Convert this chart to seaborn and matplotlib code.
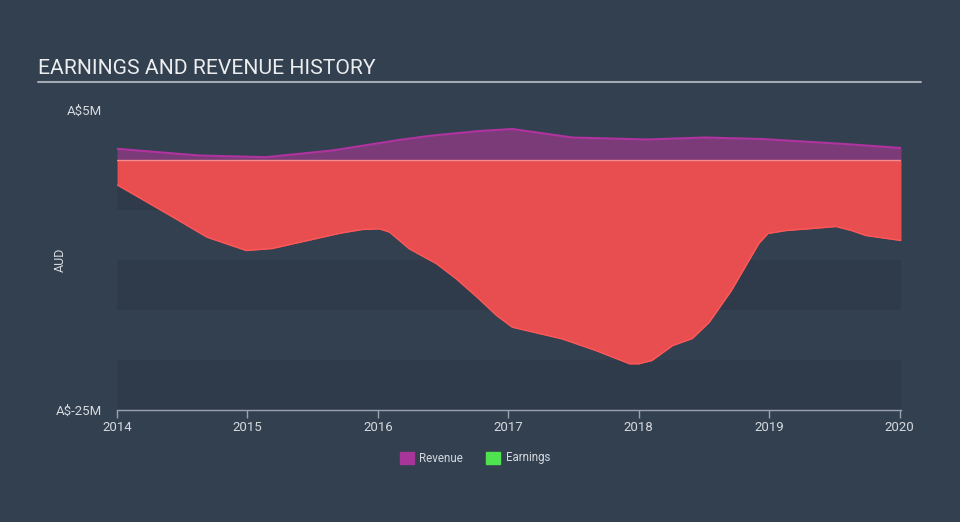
import matplotlib.pyplot as plt
import seaborn as sns
import pandas as pd
from matplotlib.patches import Patch
from matplotlib.lines import Line2D

# revenue history (A$ millions)
rev_years = [2014.00, 2014.63, 2015.14, 2015.65, 2016.16, 2016.42, 2016.78,
             2017.03, 2017.49, 2018.06, 2018.51, 2018.94, 2019.58, 2020.01]
rev_vals = [1.12, 0.45, 0.28, 0.95, 2.0, 2.45, 2.9,
            3.1, 2.25, 2.05, 2.25, 2.1, 1.6, 1.2]

# earnings history (A$ millions)
earn_years = [2014.00, 2014.43, 2014.69, 2014.99, 2015.19, 2015.71, 2015.88,
              2016.01, 2016.09, 2016.24, 2016.45, 2016.60, 2016.76, 2016.91,
              2017.03, 2017.16, 2017.41, 2017.67, 2017.93, 2018.00, 2018.10,
              2018.26, 2018.41, 2018.54, 2018.71, 2018.92, 2018.99, 2019.13,
              2019.33, 2019.51, 2019.63, 2019.74, 2020.01]
earn_vals = [-2.48, -5.72, -7.72, -9.05, -8.85, -7.32, -6.95,
             -6.88, -7.22, -8.88, -10.38, -11.88, -13.72, -15.55,
             -16.72, -17.12, -17.88, -19.05, -20.38, -20.38, -20.05,
             -18.55, -17.85, -16.22, -13.05, -8.35, -7.35, -7.05,
             -6.85, -6.65, -7.05, -7.55, -8.05]

x_ticks = [2014, 2015, 2016, 2017, 2018, 2019, 2020]
y_ticks = [5, -25]
y_tick_labels = ["A$5M", "A$-25M"]

BG = '#334050'
BAND = '#2f3b4a'
TXT = '#d5d9de'

sns.set_theme(style="dark", rc={'figure.facecolor': BG, 'axes.facecolor': BG})
plt.rcParams['font.family'] = ['Roboto', 'DejaVu Sans']

rev = pd.DataFrame({'year': rev_years, 'value': rev_vals})
earn = pd.DataFrame({'year': earn_years, 'value': earn_vals})

fig = plt.figure(figsize=(9.6, 5.22), dpi=100)
ax = fig.add_axes([117/960, 1-410/522, 784/960, 300/522])

# stripes
for lo in [-5, -15, -25]:
    ax.axhspan(lo, lo + 5, color=BAND, zorder=0, lw=0)

ax.fill_between(rev['year'], 0, rev['value'], color='#7b3b79', lw=0, zorder=2)
sns.lineplot(data=rev, x='year', y='value', ax=ax, color='#b0339f', lw=1.5, zorder=3)
ax.fill_between(earn['year'], 0, earn['value'], color='#e84e50', lw=0, zorder=2)
sns.lineplot(data=earn, x='year', y='value', ax=ax, color='#ff5858', lw=1, zorder=3)
ax.axhline(0, color='#f48a8a', lw=1, zorder=4)

ax.set_xlim(2014, 2020.01)
ax.set_ylim(-25, 5)
ax.set_xticks(x_ticks)
ax.set_xticklabels([str(t) for t in x_ticks])
ax.set_yticks(y_ticks)
ax.set_yticklabels(y_tick_labels)
ax.set_xlabel('')
ax.set_ylabel('AUD', color=TXT, fontsize=9)
ax.yaxis.set_label_coords((67 - 117) / 784, 0.5)
ax.tick_params(axis='x', colors='#9aa3ad', labelcolor=TXT, labelsize=9.5,
               length=6, width=1, direction='out', bottom=True, pad=2)
ax.tick_params(axis='y', labelcolor=TXT, labelsize=9.5, length=0, pad=11)
for s in ['top', 'left', 'right']:
    ax.spines[s].set_visible(False)
ax.spines['bottom'].set_color('#9aa3ad')
ax.spines['bottom'].set_linewidth(1)
ax.grid(False)

# title with underline
fig.text(38/960, 1-68/522, 'EARNINGS AND REVENUE HISTORY', color='#ebedef',
         fontsize=15.2, va='center', ha='left')
fig.add_artist(Line2D([38/960, 921/960], [1-82/522, 1-82/522],
                      color='#a3a9b0', lw=1.5))

handles = [Patch(color='#a8359a', label='Revenue'),
           Patch(color='#4fe34f', label='Earnings')]
fig.legend(handles=handles, loc='center', bbox_to_anchor=(475/960, 1-458/522),
           ncol=2, frameon=False, fontsize=8.3, labelcolor=TXT,
           handlelength=1.2, handleheight=1.2, columnspacing=2.0, handletextpad=0.5)

fig.savefig('out.png', dpi=100, facecolor=BG)
